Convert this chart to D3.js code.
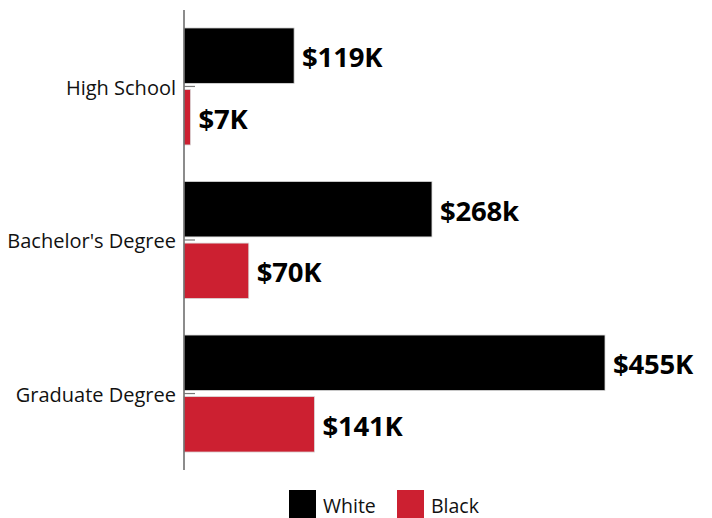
<!DOCTYPE html>
<html>
<head>
<meta charset="utf-8">
<script src="https://cdn.jsdelivr.net/npm/d3@7/dist/d3.min.js"></script>
<style>
  html, body { margin: 0; padding: 0; background: #fff; }
  svg { display: block; }
  text { font-family: "Open Sans", "Noto Sans", sans-serif; }
</style>
</head>
<body>
<script>
// Median wealth by education level and race
const categories = ["High School", "Bachelor's Degree", "Graduate Degree"];
const groups = ["White", "Black"];
const whiteValues = [119, 268, 455];
const blackValues = [7, 70, 141];
const whiteLabels = ["$119K", "$268k", "$455K"];
const blackLabels = ["$7K", "$70K", "$141K"];
const colors = ["#000000", "#CC2031"];

const W = 712, H = 518;
const axisX = 184;

const rows = categories.map((c, i) => ({
  category: c,
  bars: [
    { group: groups[0], value: whiteValues[i], label: whiteLabels[i] },
    { group: groups[1], value: blackValues[i], label: blackLabels[i] }
  ]
}));

const svg = d3.select("body").append("svg")
  .attr("width", W).attr("height", H);

const x = d3.scaleLinear().domain([0, 455]).range([axisX, 605]);

const y = d3.scaleBand().domain(categories)
  .range([10, 470]).paddingInner(0.238).paddingOuter(0.117);

const ySub = d3.scaleBand().domain(groups)
  .range([0, y.bandwidth()]).paddingInner(0.1);

const color = d3.scaleOrdinal().domain(groups).range(colors);

// bars and value labels
const g = svg.append("g").selectAll("g").data(rows).join("g")
  .attr("transform", d => `translate(0,${y(d.category)})`);

g.selectAll("rect").data(d => d.bars).join("rect")
  .attr("x", x(0))
  .attr("y", d => ySub(d.group))
  .attr("width", d => x(d.value) - x(0))
  .attr("height", ySub.bandwidth())
  .attr("fill", d => color(d.group))
  .attr("stroke", "#d9d9d9")
  .attr("stroke-width", 0.8);

g.selectAll("text.value").data(d => d.bars).join("text")
  .attr("class", "value")
  .attr("x", d => x(d.value) + 8)
  .attr("y", d => ySub(d.group) + ySub.bandwidth() / 2)
  .attr("dy", "0.42em")
  .attr("font-size", 27.5)
  .attr("font-weight", 700)
  .attr("letter-spacing", "-0.2")
  .attr("fill", "#000")
  .text(d => d.label);

// left axis with short ticks pointing into the plot
const axis = d3.axisLeft(y).tickSize(-11).tickPadding(20);
const ax = svg.append("g")
  .attr("transform", `translate(${axisX},0)`)
  .call(axis);
ax.select(".domain")
  .attr("d", "M0,10V470")
  .attr("stroke", "#666").attr("stroke-width", 1.5);
ax.selectAll(".tick line").attr("stroke", "#777").attr("stroke-width", 1.2);
ax.selectAll(".tick text")
  .attr("x", -8)
  .attr("dy", "0.42em")
  .attr("font-size", 20)
  .attr("font-family", "\"Open Sans\", sans-serif")
  .attr("fill", "#111");

// legend
const legend = svg.append("g").selectAll("g").data(groups).join("g")
  .attr("transform", (d, i) => `translate(${289 + i * 108},490)`);
legend.append("rect")
  .attr("width", 27).attr("height", 28)
  .attr("fill", d => color(d));
legend.append("text")
  .attr("x", 34).attr("y", 23)
  .attr("font-size", 19.5)
  .attr("fill", "#111")
  .text(d => d);
</script>
</body>
</html>
